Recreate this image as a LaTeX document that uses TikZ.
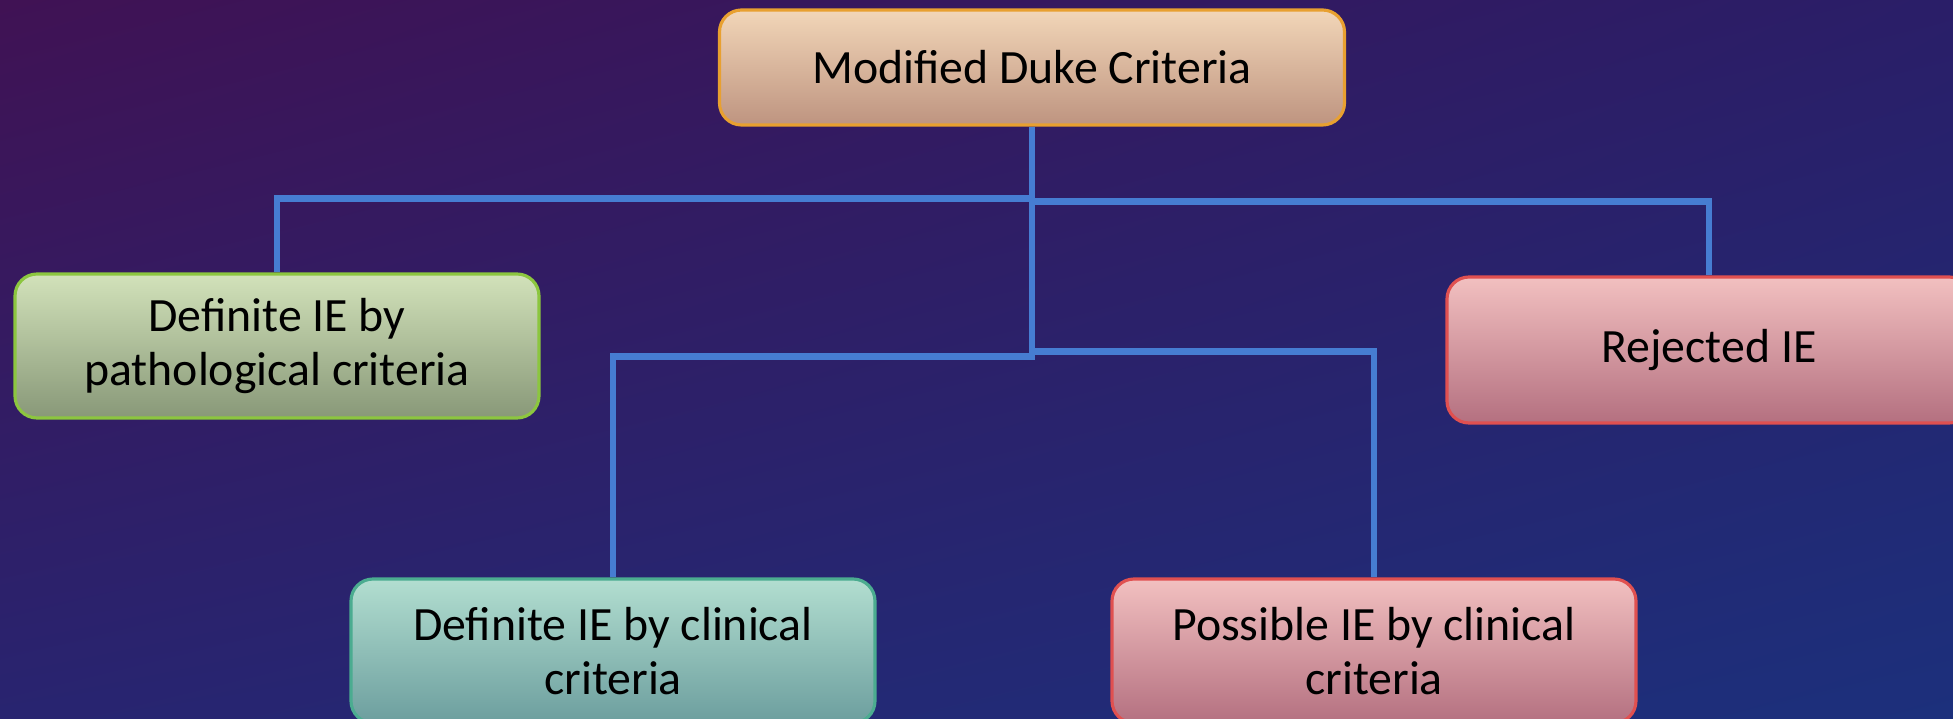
\documentclass[tikz,border=0pt]{standalone}
\usepackage{fontspec}
\setmainfont{Carlito}
\usetikzlibrary{calc,shadings}

\definecolor{bgTL}{RGB}{64,18,84}
\definecolor{bgTR}{RGB}{42,30,104}
\definecolor{bgBL}{RGB}{40,36,112}
\definecolor{bgBR}{RGB}{28,48,124}
\definecolor{linkblue}{RGB}{70,125,210}
\definecolor{dukeline}{RGB}{232,160,48}
\definecolor{duketop}{RGB}{242,214,184}
\definecolor{dukebot}{RGB}{190,148,128}
\definecolor{greenline}{RGB}{140,198,63}
\definecolor{greentop}{RGB}{210,226,186}
\definecolor{greenbot}{RGB}{136,152,120}
\definecolor{tealline}{RGB}{75,172,144}
\definecolor{tealtop}{RGB}{178,222,208}
\definecolor{tealbot}{RGB}{108,158,158}
\definecolor{pinkline}{RGB}{224,80,80}
\definecolor{pinktop}{RGB}{242,192,192}
\definecolor{pinkbot}{RGB}{180,112,128}

\begin{document}
\begin{tikzpicture}[
		font=\fontsize{13.6}{15.5}\selectfont,
		box/.style={draw,line width=0.9pt,rounded corners=0.22cm,align=center,minimum width=5.24cm,minimum height=1.44cm,text=black},
		dukebox/.style={box,draw=dukeline,top color=duketop,bottom color=dukebot,minimum width=6.25cm,minimum height=1.15cm},
		greenbox/.style={box,draw=greenline,top color=greentop,bottom color=greenbot},
		tealbox/.style={box,draw=tealline,top color=tealtop,bottom color=tealbot},
		pinkbox/.style={box,draw=pinkline,top color=pinktop,bottom color=pinkbot},
		link/.style={draw=linkblue,line width=1.9pt}
		]
		
		% =====================================================
		% Background
		% =====================================================
		\shade[upper left=bgTL,upper right=bgTR,lower left=bgBL,lower right=bgBR]
		(0,0) rectangle (19.53,7.19);
		\useasboundingbox (0,0) rectangle (19.53,7.19);
		
		% =====================================================
		% Boxes
		% =====================================================
		\node[dukebox] (duke) at (10.32,6.515) {Modified Duke Criteria};
		
		\node[greenbox] (patho) at (2.77,3.73)
		{Definite IE by\\pathological criteria};
		
		\node[pinkbox,minimum height=1.46cm] (rejected) at (17.09,3.69) {Rejected IE};
		
		\node[tealbox] (clinical) at (6.13,0.68)
		{Definite IE by clinical\\criteria};
		
		\node[pinkbox] (possible) at (13.74,0.68)
		{Possible IE by clinical\\criteria};
		
		% =====================================================
		% Connectors
		% =====================================================
		\draw[link] (duke.south) -- ++(0,-0.72) -| (patho.north);
		\draw[link] (duke.south) -- ++(0,-0.75) -| (rejected.north);
		\draw[link] (duke.south) -- ++(0,-2.30) -| (clinical.north);
		\draw[link] (duke.south) -- ++(0,-2.25) -| (possible.north);
		
	\end{tikzpicture}
\end{document}
